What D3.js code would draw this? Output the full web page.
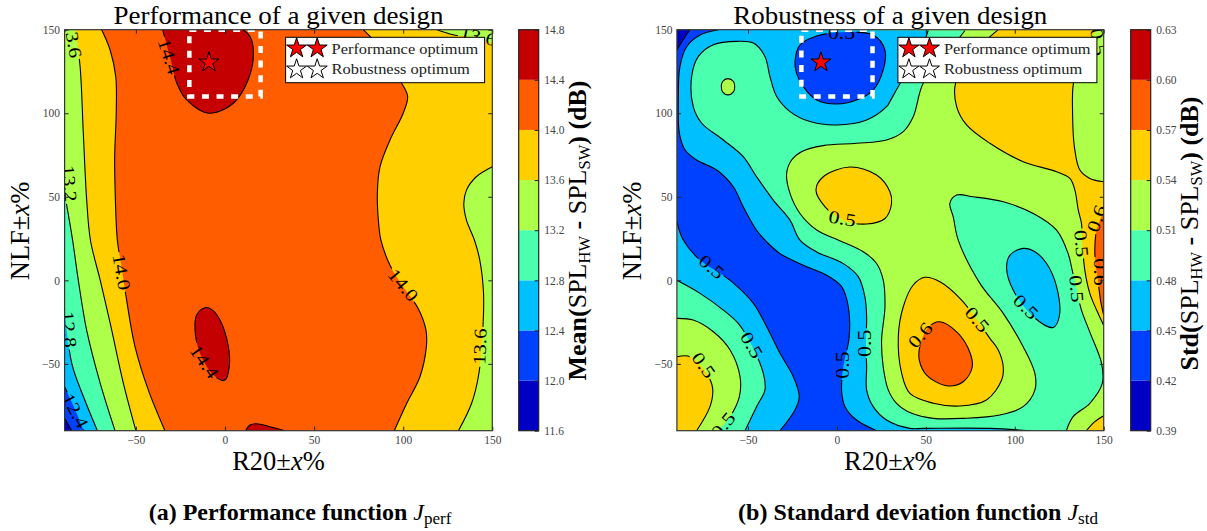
<!DOCTYPE html>
<html>
<head>
<meta charset="utf-8">
<script src="https://cdn.jsdelivr.net/npm/d3@7"></script>
<style>
  html, body { margin: 0; padding: 0; background: #fff; }
  text { font-family: "Liberation Serif", serif; }
</style>
</head>
<body>
<script>
// Contour bands, low to high (same colours on both panels)
const bandColors = ["#0000c4", "#0040ff", "#00bfff", "#4affad", "#adff4a", "#ffcf00", "#ff5d00", "#c40000"];
const perfLevels = [11.6, 12.0, 12.4, 12.8, 13.2, 13.6, 14.0, 14.4, 14.8];
const stdLevels = [0.39, 0.42, 0.45, 0.48, 0.51, 0.54, 0.57, 0.60, 0.63];
const xTicks = [-50, 0, 50, 100, 150];
const yTicks = [-50, 0, 50, 100, 150];
const xDomain = [-90, 150];
const yDomain = [-90, 150];

// Robust region and optimum position, in R20 / NLF percent
const optBox = [-20, 20, 110, 150];
const perfOptimum = [-9, 130.5];
const stdOptimum = [-9, 130.5];

// ---- contours of panel (a) as [R20, NLF] ----
const perf140Left = [[-69.2,150],[-64.5,138],[-61.3,122],[-61,102],[-61.9,74],[-61.7,56],[-60.4,24],[-58,8],[-55.5,-9.8],[-50.5,-39.7],[-43,-65.7],[-33.7,-90]];
const perf136Left = [[-84,150],[-81.3,128],[-79.5,88],[-77.6,48],[-75.5,24],[-70,0],[-64.4,-25.8],[-57,-61.7],[-50,-90]];
const perf132Left = [[-90,52],[-88,40],[-85.5,24],[-82.3,0],[-77.6,-30],[-70,-61.7],[-61.7,-90]];
const perf128Left = [[-90,-17],[-85.9,-50],[-79.4,-69.7],[-71.6,-90]];
const perf124Left = [[-90,-63.7],[-84,-77.6],[-79.4,-90]];
const perf120Left = [[-90,-82.6],[-86,-90]];
const perf144Top = [[-35,150],[-30.9,134],[-27,118],[-21.5,108],[-9,100],[4.7,106],[13,120],[16,136],[14,146],[10.3,150]];
const perf144Mid = [[-11.2,-16.4],[-15.9,-20.8],[-16.8,-29.8],[-14,-43.7],[-6.5,-56.7],[0,-59.7],[2.4,-51.7],[1.9,-39.7],[-2.8,-23.8],[-7.5,-17.4]];
const perf144Bottom = [[11.6,-90],[14,-86.6],[17.7,-85.8],[25.2,-87.6],[33.7,-90]];
const perf140Right = [[77.6,150],[83,144],[92.6,130],[99,118.3],[102.5,110],[100,100],[92.6,84],[87,68],[85.5,52],[86.4,32],[87.5,24],[92.6,9],[100,-4],[108.4,-16.8],[112.8,-29.8],[113,-39.7],[109.4,-57.7],[102,-73.6],[95,-90]];
const perf136Right = [[150,68],[141,62],[135.5,54],[134,46],[135.5,36],[140,24],[143,12],[145,-6],[145,-22],[142.5,-55.6],[138.4,-73.6],[131,-90]];
const perf136Corner = [[119,150],[128,147],[141,145],[150,142]];

const perfLabelText = ["13.6", "13.2", "14.4", "14.0", "12.8", "12.4", "14.4", "14.0", "13.6", "13.6"];
const perfLabelAt = [[-85.3,144],[-87.3,58],[-31.4,134],[-58,5],[-87.5,-29.4],[-84,-78],[-11.6,-48.7],[100,-2.8],[143,-39.7],[142,146]];
const perfLabelAngle = [80, 85, 72, 80, 85, 62, 55, 50, -88, 12];

// ---- contours of panel (b) ----
const std051Main = [[72,149.5],[60.7,134],[48.5,117.9],[42.9,97.9],[37.3,89],[27.9,84],[11,82],[-7.7,80.6],[-19.9,77],[-25.5,72],[-28.3,64],[-26.4,52],[-20.8,40],[-11.4,30.1],[1,24],[14.8,17.1],[22.3,10.1],[26,0.2],[27,-15.8],[25.1,-35.7],[26,-51.7],[28.9,-65.7],[33.5,-73.6],[42,-79.6],[54.2,-82.6],[71,-82.6],[91.6,-80.6],[104.7,-75.6],[111.3,-65.7],[111.3,-55.7],[104.7,-39.7],[93.5,-19.8],[80.4,-1.8],[68.2,24.1],[65.4,38],[63.5,46],[67.3,51],[76.6,50],[93.5,47],[110.4,40],[123.5,30],[130,16],[132.3,6],[134.7,-5],[137.5,-17.8],[142.2,-31],[148.8,-49.7],[149.2,-61.7],[142.2,-73.6],[132.8,-81.6],[129,-90]];
const std048Main = [[51.3,149.5],[45.7,134],[35.6,118],[29.8,107],[27.9,103.9],[16.7,96],[-0.2,93],[-15.2,95],[-26.4,101],[-33.9,110],[-37.7,122],[-40.5,134],[-47,142],[-56.4,143],[-69.5,141],[-77.9,134],[-81.7,122],[-80.8,104],[-76,94],[-63.9,84],[-52.7,74],[-45.2,62],[-35.8,48],[-26.4,36],[-20.8,24.1],[-11.4,17],[3.6,10],[12,2.2],[15.7,-9.8],[16.7,-21.8],[16.3,-37.7],[16.7,-51.7],[16.7,-65.7],[20.4,-75.6],[27.9,-83.6],[41,-88.6],[48.5,-88.6],[86,-88.6],[108.5,-90]];
const std048Left = [[-51.7,-90],[-45.2,-75.6],[-40.5,-65.7],[-41.4,-55.7],[-48,-38.7],[-55.5,-25.8],[-63.9,-17.8],[-77,-7.8],[-90,0]];
const std045Main = [[-66.7,150],[-77,146.8],[-84.5,139.8],[-88.3,127.9],[-89.2,107.9],[-88.6,88],[-85.4,78],[-78.9,72],[-67.6,66],[-58.3,56],[-52.7,44],[-45.2,30],[-39.5,23],[-32,16],[-18.9,9],[-5.8,3],[2.6,-3.8],[6.4,-15.8],[6.9,-33.7],[3.6,-51.7],[2.6,-65.7],[4.5,-75.6],[11,-83.6],[22.3,-90]];
const std045Left = [[-32,-90],[-23.6,-77.6],[-21.2,-69.7],[-24.5,-57.7],[-32,-43.7],[-39.5,-27.8],[-47,-13.8],[-59.2,-0.8],[-65.8,4.2],[-77,12.1],[-86.4,24.1],[-90,35]];
const std042Corner = [[-90,137.8],[-85.4,145.8],[-82.6,150]];
const std045Top = [[-23.6,130.8],[-20.8,140.8],[-11.4,146.2],[2.6,148.4],[20.4,146.8],[27,137.8],[26,125.9],[20.4,113.9],[11,107.9],[-0.2,105.5],[-11.4,107.9],[-18.9,115.9],[-22.7,123.9]];
const std051Spot = [[-61.3,120.7],[-58.2,119],[-57.5,115.9],[-58.2,112.8],[-61.3,111],[-64.3,112.8],[-65,115.9],[-64.3,119]];
const std048Spot = [[104.7,19.1],[97.3,15.1],[95.4,7.1],[99.1,-5.8],[110.4,-21.8],[121.6,-28.2],[125,-21.8],[123.5,-3.8],[117.9,10.1],[111.3,17.1]];
const std054Spot = [[-11.8,54],[-7.7,62],[7.3,67.8],[22.3,63],[29.8,53],[30.7,46],[27,37],[16.7,33.7],[3.6,36],[-6.7,44]];
const std054Upper = [[90.7,150],[75,134],[66.7,118],[67.3,104],[72.9,93],[86,82],[104.7,71],[123.5,65],[131,61],[133.8,54],[135.7,42],[137.5,34],[138,22],[139.4,6],[142.2,-7.8],[146,-17.8],[150,-27]];
const std054Right = [[150,59],[142.2,61],[136.6,66],[133.5,80],[132.5,100],[133,118],[138,135],[146,150]];
const std051Low = [[-90,-22.8],[-80.8,-23.8],[-69.5,-30.8],[-60.1,-41.7],[-54.5,-57.7],[-54.9,-69.7],[-60.1,-81.6],[-66.7,-90]];
const std054Low = [[-90,-45.7],[-82.6,-45.7],[-73.3,-55.7],[-69.9,-64.7],[-71.4,-75.6],[-78.9,-90]];
const std054Mid = [[49.5,1.8],[42.9,-2.8],[37.3,-15.8],[34.5,-33.7],[36.4,-55.7],[41,-67.7],[54.2,-73.6],[69.1,-75.2],[84.1,-71.6],[92.6,-59.7],[93.5,-51.7],[90.7,-41.7],[86,-34.7],[70.1,-11.8],[57.9,-0.8]];
const std057Mid = [[57.9,-24.8],[51.3,-28.2],[46.6,-39.7],[46.3,-47.7],[50.4,-56.7],[61.6,-63.1],[71,-60.7],[76.1,-51.7],[73.8,-40.7],[67.3,-30.8]];
const std057Right = [[150,41],[146,30],[145,18],[145.6,8],[147,-2],[148.2,-12],[150,-21]];
const std054Corner = [[140.3,-90],[145,-84.6],[150,-81]];

const stdLabelText = ["0.5", "0.5", "0.5", "0.5", "0.5", "0.5", "0.5", "0.5", "0.6", "0.5", "0.5", "0.5", "0.5", "0.6", "0.6", "0.5"];
const stdLabelAt = [[2.6,148],[3,37],[-70.5,8.1],[-48,-38.7],[-75,-50.7],[-64,-86.6],[3.6,-50.7],[15.7,-37.7],[46.8,-32.8],[78.9,-23.4],[106.2,-15.8],[134.7,-5],[137.5,22],[146,37],[147.8,5],[147,142.7]];
const stdLabelAngle = [0, 10, 40, 60, 55, -50, -90, -90, -50, 50, 45, 85, 85, -70, 90, 80];

const width = 1207;
const height = 531;
const plotTop = 29.7;
const plotBottom = 430.7;

const svg = d3.select("body").append("svg")
  .attr("width", width)
  .attr("height", height)
  .style("display", "block");

function makePanel(cfg) {
  const x = d3.scaleLinear().domain(xDomain).range([cfg.left, cfg.right]);
  const y = d3.scaleLinear().domain(yDomain).range([plotBottom, plotTop]);
  const g = svg.append("g");

  const openLine = d3.line().x(d => x(d[0])).y(d => y(d[1])).curve(d3.curveCatmullRom.alpha(0.5));
  const closedLine = d3.line().x(d => x(d[0])).y(d => y(d[1])).curve(d3.curveCatmullRomClosed.alpha(0.5));

  // one region = curved pieces joined by straight runs along the frame
  const regionPath = pieces => pieces.map((p, i) => {
    const s = p.length > 1 ? openLine(p) : `M${x(p[0][0])},${y(p[0][1])}`;
    return i ? "L" + s.slice(1) : s;
  }).join("") + "Z";

  g.append("clipPath").attr("id", cfg.id + "-clip")
    .append("rect")
    .attr("x", cfg.left).attr("y", plotTop)
    .attr("width", cfg.right - cfg.left).attr("height", plotBottom - plotTop);

  const mask = g.append("mask").attr("id", cfg.id + "-gaps")
    .attr("maskUnits", "userSpaceOnUse")
    .attr("x", 0).attr("y", 0).attr("width", width).attr("height", height);
  mask.append("rect").attr("width", width).attr("height", height).attr("fill", "#fff");
  mask.selectAll("rect.gap").data(cfg.labels).join("rect")
    .attr("class", "gap")
    .attr("x", d => -d.text.length * 5).attr("y", -7)
    .attr("width", d => d.text.length * 10).attr("height", 14)
    .attr("fill", "#000")
    .attr("transform", d => `translate(${x(d.at[0])},${y(d.at[1])}) rotate(${d.angle})`);

  const plot = g.append("g").attr("clip-path", `url(#${cfg.id}-clip)`);

  plot.append("rect")
    .attr("x", cfg.left).attr("y", plotTop)
    .attr("width", cfg.right - cfg.left).attr("height", plotBottom - plotTop)
    .attr("fill", bandColors[cfg.base]);

  cfg.regions.forEach(r => {
    plot.append("path")
      .attr("d", r.closed ? closedLine(r.pieces[0]) : regionPath(r.pieces))
      .attr("fill", bandColors[r.band]);
  });

  const lines = plot.append("g")
    .attr("mask", `url(#${cfg.id}-gaps)`)
    .attr("fill", "none")
    .attr("stroke", "#000")
    .attr("stroke-width", 1.1);
  cfg.regions.forEach(r => {
    if (r.closed) {
      lines.append("path").attr("d", closedLine(r.pieces[0]));
    } else {
      r.pieces.filter(p => p.length > 1).forEach(p => lines.append("path").attr("d", openLine(p)));
    }
  });

  plot.selectAll("text.clabel").data(cfg.labels).join("text")
    .attr("class", "clabel")
    .attr("text-anchor", "middle")
    .attr("dy", "0.34em")
    .attr("font-size", 18)
    .attr("textLength", d => d.text.length * 9.1)
    .attr("lengthAdjust", "spacingAndGlyphs")
    .attr("transform", d => `translate(${x(d.at[0])},${y(d.at[1])}) rotate(${d.angle})`)
    .text(d => d.text);

  // dashed box around the robust region
  plot.append("rect")
    .attr("x", x(optBox[0])).attr("y", y(optBox[3]))
    .attr("width", x(optBox[1]) - x(optBox[0]))
    .attr("height", y(optBox[2]) - y(optBox[3]))
    .attr("fill", "none")
    .attr("stroke", "#fff")
    .attr("stroke-width", 4.5)
    .attr("stroke-dasharray", "7,7.6");

  const star = d3.symbol().type(d3.symbolStar).size(124);
  plot.append("path")
    .attr("d", star())
    .attr("transform", `translate(${x(cfg.optimum[0])},${y(cfg.optimum[1])})`)
    .attr("fill", "#ff0000")
    .attr("stroke", "#000")
    .attr("stroke-width", 1);

  // axes, inner ticks on all four sides
  const axisStyle = a => a.call(s => s.select(".domain").remove())
    .call(s => s.selectAll("text").attr("font-size", 11.5).attr("font-family", "Liberation Serif").attr("fill", "#444"))
    .call(s => s.selectAll("line").attr("stroke", "#222"));
  const fmt = d => String(d).replace("-", "\u2212");

  g.append("g").attr("transform", `translate(0,${plotBottom})`)
    .call(d3.axisBottom(x).tickValues(xTicks).tickSize(-4).tickPadding(5.5).tickFormat(fmt)).call(axisStyle);
  g.append("g").attr("transform", `translate(${cfg.left},0)`)
    .call(d3.axisLeft(y).tickValues(yTicks).tickSize(-4).tickPadding(4.5).tickFormat(fmt)).call(axisStyle);
  g.append("g").attr("transform", `translate(0,${plotTop})`)
    .call(d3.axisTop(x).tickValues(xTicks).tickSize(-4).tickFormat("")).call(axisStyle);
  g.append("g").attr("transform", `translate(${cfg.right},0)`)
    .call(d3.axisRight(y).tickValues(yTicks).tickSize(-4).tickFormat("")).call(axisStyle);

  // legend sits over the ticks and the contours
  const lx = cfg.left + 221;
  const legend = g.append("g");
  legend.append("rect")
    .attr("x", lx).attr("y", 37.3).attr("width", 199).attr("height", 45.4)
    .attr("fill", "#fff").attr("stroke", "#000").attr("stroke-width", 1);
  [["#ff0000", "Performance optimum", 48.3, 54, 146.7], ["#fff", "Robustness optimum", 69.3, 74, 138.3]].forEach(row => {
    [11, 31.6].forEach(dx => {
      legend.append("path").attr("d", star())
        .attr("transform", `translate(${lx + dx},${row[2]})`)
        .attr("fill", row[0]).attr("stroke", "#000").attr("stroke-width", 1);
    });
    legend.append("text")
      .attr("x", lx + 46).attr("y", row[3])
      .attr("font-size", 15)
      .attr("textLength", row[4]).attr("lengthAdjust", "spacingAndGlyphs")
      .attr("fill", "#222")
      .text(row[1]);
  });

  g.append("rect")
    .attr("x", cfg.left).attr("y", plotTop)
    .attr("width", cfg.right - cfg.left).attr("height", plotBottom - plotTop)
    .attr("fill", "none").attr("stroke", "#333").attr("stroke-width", 1.2);

  // title and axis names
  g.append("text")
    .attr("x", (cfg.left + cfg.right) / 2).attr("y", 24)
    .attr("text-anchor", "middle").attr("font-size", 25)
    .attr("textLength", cfg.titleWidth).attr("lengthAdjust", "spacingAndGlyphs")
    .text(cfg.title);

  const axisName = g.append("text")
    .attr("x", (cfg.left + cfg.right) / 2).attr("y", 470)
    .attr("text-anchor", "middle").attr("font-size", 26.5);
  axisName.append("tspan").text("R20\u00b1");
  axisName.append("tspan").attr("font-style", "italic").text("x");
  axisName.append("tspan").text("%");

  const yName = g.append("text")
    .attr("transform", `translate(${cfg.left - 36},231) rotate(-90)`)
    .attr("text-anchor", "middle").attr("font-size", 26.5);
  yName.append("tspan").text("NLF\u00b1");
  yName.append("tspan").attr("font-style", "italic").text("x");
  yName.append("tspan").text("%");

  // colour bar
  const c = d3.scaleLinear().domain(d3.extent(cfg.levels)).range([plotBottom, plotTop]);
  const bar = g.append("g");
  bar.selectAll("rect").data(bandColors).join("rect")
    .attr("x", cfg.barLeft).attr("width", 20)
    .attr("y", (d, i) => c(cfg.levels[i + 1]))
    .attr("height", (d, i) => c(cfg.levels[i]) - c(cfg.levels[i + 1]))
    .attr("fill", d => d);
  g.append("g").attr("transform", `translate(${cfg.barLeft + 20},0)`)
    .call(d3.axisRight(c).tickValues(cfg.levels).tickSize(-4).tickPadding(5.6).tickFormat(d3.format(cfg.barFormat)))
    .call(axisStyle);
  g.append("rect")
    .attr("x", cfg.barLeft).attr("y", plotTop).attr("width", 20).attr("height", plotBottom - plotTop)
    .attr("fill", "none").attr("stroke", "#222").attr("stroke-width", 1.2);

  const barName = g.append("text")
    .attr("transform", `translate(${cfg.barLeft + cfg.nameOffset},${cfg.nameCenter}) rotate(-90)`)
    .attr("text-anchor", "middle").attr("font-size", 26);
  barName.append("tspan").attr("font-weight", "bold").text(cfg.barName + "(");
  barName.append("tspan").text("SPL");
  barName.append("tspan").attr("font-size", 16.5).attr("dy", 4).text("HW");
  barName.append("tspan").attr("font-weight", "bold").attr("dy", -4).text(" - ");
  barName.append("tspan").text("SPL");
  barName.append("tspan").attr("font-size", 16.5).attr("dy", 4).text("SW");
  barName.append("tspan").attr("font-weight", "bold").attr("dy", -4).text(") (dB)");

  // sub-figure caption
  const caption = g.append("text")
    .attr("x", cfg.captionX).attr("y", 520)
    .attr("text-anchor", "middle").attr("font-size", 24);
  caption.append("tspan").attr("font-weight", "bold").text(cfg.caption + " ");
  caption.append("tspan").attr("font-style", "italic").text("J");
  caption.append("tspan").attr("font-size", 17).attr("dy", 4).text(cfg.captionSub);
}

const zip = (text, at, angle) => text.map((t, i) => ({ text: t, at: at[i], angle: angle[i] }));

makePanel({
  id: "perf", left: 64.6, right: 492.3, barLeft: 518.7,
  title: "Performance of a given design", titleWidth: 330,
  levels: perfLevels, barFormat: ".1f", barName: "Mean", nameOffset: 67, nameCenter: 230.5,
  caption: "(a) Performance function", captionSub: "perf", captionX: 300,
  optimum: perfOptimum,
  base: 6,
  labels: zip(perfLabelText, perfLabelAt, perfLabelAngle),
  regions: [
    { band: 5, pieces: [perf140Left, [[-90,-90]], [[-90,150]]] },
    { band: 4, pieces: [perf136Left, [[-90,-90]], [[-90,150]]] },
    { band: 3, pieces: [perf132Left, [[-90,-90]]] },
    { band: 2, pieces: [perf128Left, [[-90,-90]]] },
    { band: 1, pieces: [perf124Left, [[-90,-90]]] },
    { band: 0, pieces: [perf120Left, [[-90,-90]]] },
    { band: 7, pieces: [perf144Top] },
    { band: 7, pieces: [perf144Mid], closed: true },
    { band: 7, pieces: [perf144Bottom] },
    { band: 5, pieces: [perf140Right, [[150,-90]], [[150,150]]] },
    { band: 4, pieces: [perf136Right, [[150,-90]]] },
    { band: 4, pieces: [perf136Corner, [[150,150]]] }
  ]
});

makePanel({
  id: "std", left: 676.9, right: 1103.7, barLeft: 1130.7,
  title: "Robustness of a given design", titleWidth: 314,
  levels: stdLevels, barFormat: ".2f", barName: "Std", nameOffset: 67, nameCenter: 233.5,
  caption: "(b) Standard deviation function", captionSub: "std", captionX: 918,
  optimum: stdOptimum,
  base: 4,
  labels: zip(stdLabelText, stdLabelAt, stdLabelAngle),
  regions: [
    { band: 3, pieces: [std051Main, [[-90,-90]], [[-90,150]]] },
    { band: 2, pieces: [std048Main, std048Left, [[-90,150]]] },
    { band: 1, pieces: [std045Main, std045Left, [[-90,150]]] },
    { band: 0, pieces: [std042Corner, [[-90,150]]] },
    { band: 1, pieces: [std045Top], closed: true },
    { band: 4, pieces: [std051Spot], closed: true },
    { band: 2, pieces: [std048Spot], closed: true },
    { band: 5, pieces: [std054Spot], closed: true },
    { band: 4, pieces: [std051Low, [[-90,-90]]] },
    { band: 5, pieces: [std054Low, [[-90,-90]]] },
    { band: 5, pieces: [std054Mid], closed: true },
    { band: 6, pieces: [std057Mid], closed: true },
    { band: 5, pieces: [std054Upper, [[150,150]]] },
    { band: 4, pieces: [std054Right, [[150,150]]] },
    { band: 6, pieces: [std057Right] },
    { band: 5, pieces: [std054Corner, [[150,-90]]] }
  ]
});
</script>
</body>
</html>
